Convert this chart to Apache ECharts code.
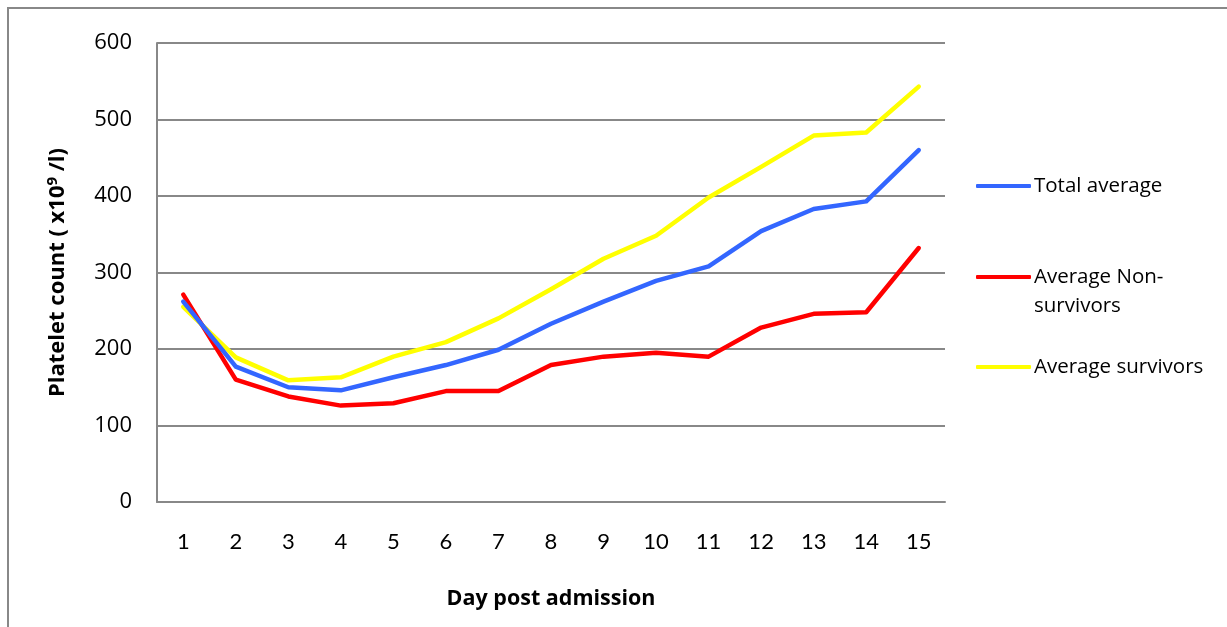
<!DOCTYPE html>
<html>
<head>
<meta charset="utf-8">
<title>Platelet count by day post admission</title>
<script src="https://cdn.jsdelivr.net/npm/echarts@6/dist/echarts.min.js"></script>
<style>
  html, body { margin: 0; padding: 0; background: #ffffff; }
  #chart { width: 1227px; height: 627px; }
</style>
</head>
<body>
<div id="chart"></div>
<script>
// Day post admission (category axis)
const days = ['1','2','3','4','5','6','7','8','9','10','11','12','13','14','15'];

// Average platelet counts (x10^9 /l)
const totalAverage = [262, 177, 150, 146, 163, 179, 199, 233, 262, 289, 308, 354, 383, 393, 460];
const nonSurvivors = [271, 160, 138, 126, 129, 145, 145, 179, 190, 195, 190, 228, 246, 248, 332];
const survivors    = [255, 189, 159, 163, 190, 209, 240, 278, 318, 348, 398, 438, 479, 483, 543];

const seriesNames = ['Total average', 'Average Non-survivors', 'Average survivors'];
const seriesColors = ['#3366ff', '#ff0000', '#ffff00'];

const narrowFont = 'Lato, "Liberation Sans", sans-serif';
const wideFont = '"Open Sans", "Liberation Sans", sans-serif';

const chart = echarts.init(document.getElementById('chart'), null, { renderer: 'canvas' });

// One legend block per series so each entry sits at its own height;
// the two-line entry gets a blank leading line so its first line lines up with the key.
function legendFor(i, top, formatter) {
  return {
    data: [seriesNames[i]],
    left: 976,
    top: top,
    padding: 0,
    itemWidth: 55,
    itemHeight: 4,
    itemGap: 0,
    icon: 'roundRect',
    itemStyle: { color: seriesColors[i] },
    formatter: formatter,
    selectedMode: false,
    textStyle: {
      fontFamily: wideFont,
      fontSize: 20.5,
      color: '#000000',
      lineHeight: 29,
      padding: [0, 0, 0, -2]
    }
  };
}

const option = {
  backgroundColor: '#ffffff',
  animation: false,
  graphic: [{
    type: 'rect',
    shape: { x: 8, y: 8, width: 1240, height: 640 },
    style: { fill: null, stroke: '#888888', lineWidth: 2 },
    silent: true
  }],
  grid: { left: 157, right: 282, top: 43, bottom: 125 },
  legend: [
    legendFor(0, 171.5, null),
    legendFor(1, 233.5, function () { return ' \nAverage Non-\nsurvivors'; }),
    legendFor(2, 352.5, null)
  ],
  xAxis: {
    type: 'category',
    data: days,
    boundaryGap: true,
    name: 'Day post admission',
    nameLocation: 'middle',
    nameGap: 86,
    nameTextStyle: { fontFamily: wideFont, fontSize: 21.5, fontWeight: 'bold', color: '#000000' },
    axisLine: { show: true, lineStyle: { color: '#888888', width: 2 } },
    axisTick: { show: false },
    axisLabel: { fontFamily: narrowFont, fontSize: 22, color: '#000000', margin: 29 },
    splitLine: { show: false }
  },
  yAxis: {
    type: 'value',
    min: 0,
    max: 600,
    interval: 100,
    name: 'Platelet count ( x10{sup|9} /l)',
    nameLocation: 'middle',
    nameGap: 87,
    nameRotate: 90,
    nameTextStyle: {
      fontFamily: wideFont, fontSize: 22, fontWeight: 'bold', color: '#000000',
      rich: {
        sup: { fontFamily: wideFont, fontSize: 15, fontWeight: 'bold', color: '#000000', verticalAlign: 'top', padding: [0, 0, 10, 0] }
      }
    },
    axisLine: { show: true, lineStyle: { color: '#888888', width: 2 } },
    axisTick: { show: false },
    axisLabel: { fontFamily: wideFont, fontSize: 22, color: '#000000', margin: 25 },
    splitLine: { show: true, lineStyle: { color: '#888888', width: 2 } }
  },
  series: [
    { name: seriesNames[0], type: 'line', data: totalAverage },
    { name: seriesNames[1], type: 'line', data: nonSurvivors },
    { name: seriesNames[2], type: 'line', data: survivors }
  ].map(function (s, i) {
    return Object.assign(s, {
      showSymbol: false,
      symbol: 'none',
      color: seriesColors[i],
      lineStyle: { color: seriesColors[i], width: 4.5, cap: 'round', join: 'round' },
      z: 3 - i
    });
  })
};

chart.setOption(option);
</script>
</body>
</html>
